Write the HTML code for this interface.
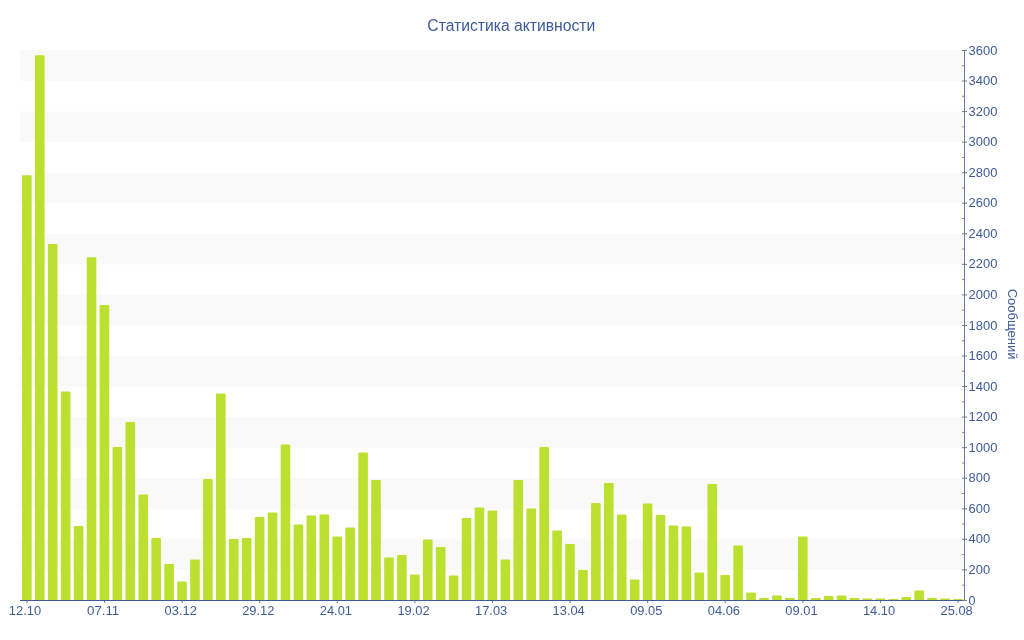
<!DOCTYPE html><html><head><meta charset="utf-8"><style>html,body{margin:0;padding:0;background:#fff;width:1024px;height:640px;overflow:hidden}svg{display:block;will-change:transform}text{font-family:"Liberation Sans",sans-serif}</style></head><body>
<svg width="1024" height="640" viewBox="0 0 1024 640">
<rect x="0" y="0" width="1024" height="640" fill="#fff"/>
<rect x="20.0" y="50.00" width="943.0" height="31.01" fill="#f9f9f9"/>
<rect x="20.0" y="111.56" width="943.0" height="30.56" fill="#f9f9f9"/>
<rect x="20.0" y="172.67" width="943.0" height="30.56" fill="#f9f9f9"/>
<rect x="20.0" y="233.78" width="943.0" height="30.56" fill="#f9f9f9"/>
<rect x="20.0" y="294.89" width="943.0" height="30.56" fill="#f9f9f9"/>
<rect x="20.0" y="356.01" width="943.0" height="30.56" fill="#f9f9f9"/>
<rect x="20.0" y="417.12" width="943.0" height="30.56" fill="#f9f9f9"/>
<rect x="20.0" y="478.23" width="943.0" height="30.56" fill="#f9f9f9"/>
<rect x="20.0" y="539.34" width="943.0" height="30.56" fill="#f9f9f9"/>
<path d="M22.05 600V176.25Q22.05 175.25 23.05 175.25H30.65Q31.65 175.25 31.65 176.25V600Z" fill="#bbe02f"/>
<path d="M34.98 600V56.25Q34.98 55.25 35.98 55.25H43.58Q44.58 55.25 44.58 56.25V600Z" fill="#bbe02f"/>
<path d="M47.91 600V245.10Q47.91 244.10 48.91 244.10H56.51Q57.51 244.10 57.51 245.10V600Z" fill="#bbe02f"/>
<path d="M60.85 600V392.50Q60.85 391.50 61.85 391.50H69.45Q70.45 391.50 70.45 392.50V600Z" fill="#bbe02f"/>
<path d="M73.78 600V527.00Q73.78 526.00 74.78 526.00H82.38Q83.38 526.00 83.38 527.00V600Z" fill="#bbe02f"/>
<path d="M86.71 600V258.25Q86.71 257.25 87.71 257.25H95.31Q96.31 257.25 96.31 258.25V600Z" fill="#bbe02f"/>
<path d="M99.64 600V306.00Q99.64 305.00 100.64 305.00H108.24Q109.24 305.00 109.24 306.00V600Z" fill="#bbe02f"/>
<path d="M112.57 600V448.00Q112.57 447.00 113.57 447.00H121.17Q122.17 447.00 122.17 448.00V600Z" fill="#bbe02f"/>
<path d="M125.51 600V423.00Q125.51 422.00 126.51 422.00H134.11Q135.11 422.00 135.11 423.00V600Z" fill="#bbe02f"/>
<path d="M138.44 600V495.50Q138.44 494.50 139.44 494.50H147.04Q148.04 494.50 148.04 495.50V600Z" fill="#bbe02f"/>
<path d="M151.37 600V539.00Q151.37 538.00 152.37 538.00H159.97Q160.97 538.00 160.97 539.00V600Z" fill="#bbe02f"/>
<path d="M164.30 600V565.00Q164.30 564.00 165.30 564.00H172.90Q173.90 564.00 173.90 565.00V600Z" fill="#bbe02f"/>
<path d="M177.23 600V582.50Q177.23 581.50 178.23 581.50H185.83Q186.83 581.50 186.83 582.50V600Z" fill="#bbe02f"/>
<path d="M190.17 600V560.50Q190.17 559.50 191.17 559.50H198.77Q199.77 559.50 199.77 560.50V600Z" fill="#bbe02f"/>
<path d="M203.10 600V480.00Q203.10 479.00 204.10 479.00H211.70Q212.70 479.00 212.70 480.00V600Z" fill="#bbe02f"/>
<path d="M216.03 600V394.50Q216.03 393.50 217.03 393.50H224.63Q225.63 393.50 225.63 394.50V600Z" fill="#bbe02f"/>
<path d="M228.96 600V540.00Q228.96 539.00 229.96 539.00H237.56Q238.56 539.00 238.56 540.00V600Z" fill="#bbe02f"/>
<path d="M241.89 600V539.00Q241.89 538.00 242.89 538.00H250.49Q251.49 538.00 251.49 539.00V600Z" fill="#bbe02f"/>
<path d="M254.83 600V518.00Q254.83 517.00 255.83 517.00H263.43Q264.43 517.00 264.43 518.00V600Z" fill="#bbe02f"/>
<path d="M267.76 600V513.50Q267.76 512.50 268.76 512.50H276.36Q277.36 512.50 277.36 513.50V600Z" fill="#bbe02f"/>
<path d="M280.69 600V445.50Q280.69 444.50 281.69 444.50H289.29Q290.29 444.50 290.29 445.50V600Z" fill="#bbe02f"/>
<path d="M293.62 600V525.50Q293.62 524.50 294.62 524.50H302.22Q303.22 524.50 303.22 525.50V600Z" fill="#bbe02f"/>
<path d="M306.55 600V516.50Q306.55 515.50 307.55 515.50H315.15Q316.15 515.50 316.15 516.50V600Z" fill="#bbe02f"/>
<path d="M319.49 600V515.50Q319.49 514.50 320.49 514.50H328.09Q329.09 514.50 329.09 515.50V600Z" fill="#bbe02f"/>
<path d="M332.42 600V537.50Q332.42 536.50 333.42 536.50H341.02Q342.02 536.50 342.02 537.50V600Z" fill="#bbe02f"/>
<path d="M345.35 600V528.50Q345.35 527.50 346.35 527.50H353.95Q354.95 527.50 354.95 528.50V600Z" fill="#bbe02f"/>
<path d="M358.28 600V453.50Q358.28 452.50 359.28 452.50H366.88Q367.88 452.50 367.88 453.50V600Z" fill="#bbe02f"/>
<path d="M371.21 600V481.00Q371.21 480.00 372.21 480.00H379.81Q380.81 480.00 380.81 481.00V600Z" fill="#bbe02f"/>
<path d="M384.15 600V558.50Q384.15 557.50 385.15 557.50H392.75Q393.75 557.50 393.75 558.50V600Z" fill="#bbe02f"/>
<path d="M397.08 600V556.00Q397.08 555.00 398.08 555.00H405.68Q406.68 555.00 406.68 556.00V600Z" fill="#bbe02f"/>
<path d="M410.01 600V575.50Q410.01 574.50 411.01 574.50H418.61Q419.61 574.50 419.61 575.50V600Z" fill="#bbe02f"/>
<path d="M422.94 600V540.50Q422.94 539.50 423.94 539.50H431.54Q432.54 539.50 432.54 540.50V600Z" fill="#bbe02f"/>
<path d="M435.87 600V548.00Q435.87 547.00 436.87 547.00H444.47Q445.47 547.00 445.47 548.00V600Z" fill="#bbe02f"/>
<path d="M448.81 600V576.50Q448.81 575.50 449.81 575.50H457.41Q458.41 575.50 458.41 576.50V600Z" fill="#bbe02f"/>
<path d="M461.74 600V519.00Q461.74 518.00 462.74 518.00H470.34Q471.34 518.00 471.34 519.00V600Z" fill="#bbe02f"/>
<path d="M474.67 600V508.50Q474.67 507.50 475.67 507.50H483.27Q484.27 507.50 484.27 508.50V600Z" fill="#bbe02f"/>
<path d="M487.60 600V511.50Q487.60 510.50 488.60 510.50H496.20Q497.20 510.50 497.20 511.50V600Z" fill="#bbe02f"/>
<path d="M500.53 600V560.50Q500.53 559.50 501.53 559.50H509.13Q510.13 559.50 510.13 560.50V600Z" fill="#bbe02f"/>
<path d="M513.47 600V481.00Q513.47 480.00 514.47 480.00H522.07Q523.07 480.00 523.07 481.00V600Z" fill="#bbe02f"/>
<path d="M526.40 600V509.50Q526.40 508.50 527.40 508.50H535.00Q536.00 508.50 536.00 509.50V600Z" fill="#bbe02f"/>
<path d="M539.33 600V448.00Q539.33 447.00 540.33 447.00H547.93Q548.93 447.00 548.93 448.00V600Z" fill="#bbe02f"/>
<path d="M552.26 600V531.50Q552.26 530.50 553.26 530.50H560.86Q561.86 530.50 561.86 531.50V600Z" fill="#bbe02f"/>
<path d="M565.19 600V545.00Q565.19 544.00 566.19 544.00H573.79Q574.79 544.00 574.79 545.00V600Z" fill="#bbe02f"/>
<path d="M578.13 600V571.00Q578.13 570.00 579.13 570.00H586.73Q587.73 570.00 587.73 571.00V600Z" fill="#bbe02f"/>
<path d="M591.06 600V504.00Q591.06 503.00 592.06 503.00H599.66Q600.66 503.00 600.66 504.00V600Z" fill="#bbe02f"/>
<path d="M603.99 600V484.00Q603.99 483.00 604.99 483.00H612.59Q613.59 483.00 613.59 484.00V600Z" fill="#bbe02f"/>
<path d="M616.92 600V515.50Q616.92 514.50 617.92 514.50H625.52Q626.52 514.50 626.52 515.50V600Z" fill="#bbe02f"/>
<path d="M629.85 600V580.50Q629.85 579.50 630.85 579.50H638.45Q639.45 579.50 639.45 580.50V600Z" fill="#bbe02f"/>
<path d="M642.79 600V504.50Q642.79 503.50 643.79 503.50H651.39Q652.39 503.50 652.39 504.50V600Z" fill="#bbe02f"/>
<path d="M655.72 600V516.00Q655.72 515.00 656.72 515.00H664.32Q665.32 515.00 665.32 516.00V600Z" fill="#bbe02f"/>
<path d="M668.65 600V526.50Q668.65 525.50 669.65 525.50H677.25Q678.25 525.50 678.25 526.50V600Z" fill="#bbe02f"/>
<path d="M681.58 600V527.50Q681.58 526.50 682.58 526.50H690.18Q691.18 526.50 691.18 527.50V600Z" fill="#bbe02f"/>
<path d="M694.51 600V573.50Q694.51 572.50 695.51 572.50H703.11Q704.11 572.50 704.11 573.50V600Z" fill="#bbe02f"/>
<path d="M707.45 600V485.00Q707.45 484.00 708.45 484.00H716.05Q717.05 484.00 717.05 485.00V600Z" fill="#bbe02f"/>
<path d="M720.38 600V576.00Q720.38 575.00 721.38 575.00H728.98Q729.98 575.00 729.98 576.00V600Z" fill="#bbe02f"/>
<path d="M733.31 600V546.50Q733.31 545.50 734.31 545.50H741.91Q742.91 545.50 742.91 546.50V600Z" fill="#bbe02f"/>
<path d="M746.24 600V593.50Q746.24 592.50 747.24 592.50H754.84Q755.84 592.50 755.84 593.50V600Z" fill="#bbe02f"/>
<path d="M759.17 600V598.00Q759.17 598.00 759.17 598.00H768.77Q768.77 598.00 768.77 598.00V600Z" fill="#bbe02f"/>
<path d="M772.11 600V596.50Q772.11 595.50 773.11 595.50H780.71Q781.71 595.50 781.71 596.50V600Z" fill="#bbe02f"/>
<path d="M785.04 600V598.00Q785.04 598.00 785.04 598.00H794.64Q794.64 598.00 794.64 598.00V600Z" fill="#bbe02f"/>
<path d="M797.97 600V537.50Q797.97 536.50 798.97 536.50H806.57Q807.57 536.50 807.57 537.50V600Z" fill="#bbe02f"/>
<path d="M810.90 600V598.00Q810.90 598.00 810.90 598.00H820.50Q820.50 598.00 820.50 598.00V600Z" fill="#bbe02f"/>
<path d="M823.83 600V597.00Q823.83 596.00 824.83 596.00H832.43Q833.43 596.00 833.43 597.00V600Z" fill="#bbe02f"/>
<path d="M836.77 600V596.50Q836.77 595.50 837.77 595.50H845.37Q846.37 595.50 846.37 596.50V600Z" fill="#bbe02f"/>
<path d="M849.70 600V598.00Q849.70 598.00 849.70 598.00H859.30Q859.30 598.00 859.30 598.00V600Z" fill="#bbe02f"/>
<path d="M862.63 600V598.50Q862.63 598.50 862.63 598.50H872.23Q872.23 598.50 872.23 598.50V600Z" fill="#bbe02f"/>
<path d="M875.56 600V598.50Q875.56 598.50 875.56 598.50H885.16Q885.16 598.50 885.16 598.50V600Z" fill="#bbe02f"/>
<path d="M888.49 600V599.00Q888.49 599.00 888.49 599.00H898.09Q898.09 599.00 898.09 599.00V600Z" fill="#bbe02f"/>
<path d="M901.43 600V598.00Q901.43 597.00 902.43 597.00H910.03Q911.03 597.00 911.03 598.00V600Z" fill="#bbe02f"/>
<path d="M914.36 600V591.50Q914.36 590.50 915.36 590.50H922.96Q923.96 590.50 923.96 591.50V600Z" fill="#bbe02f"/>
<path d="M927.29 600V598.00Q927.29 598.00 927.29 598.00H936.89Q936.89 598.00 936.89 598.00V600Z" fill="#bbe02f"/>
<path d="M940.22 600V598.50Q940.22 598.50 940.22 598.50H949.82Q949.82 598.50 949.82 598.50V600Z" fill="#bbe02f"/>
<path d="M953.15 600V599.00Q953.15 599.00 953.15 599.00H962.75Q962.75 599.00 962.75 599.00V600Z" fill="#bbe02f"/>
<rect x="20.0" y="600" width="944.0" height="1" fill="#3e5a98"/>
<rect x="26.47" y="601" width="1" height="2" fill="#777"/>
<text x="24.97" y="614.8" font-size="12" fill="#3e5a98" text-anchor="middle" textLength="32.2" lengthAdjust="spacingAndGlyphs">12.10</text>
<rect x="104.05" y="601" width="1" height="2" fill="#777"/>
<text x="103.15" y="614.8" font-size="12" fill="#3e5a98" text-anchor="middle" textLength="32.2" lengthAdjust="spacingAndGlyphs">07.11</text>
<rect x="181.64" y="601" width="1" height="2" fill="#777"/>
<text x="180.74" y="614.8" font-size="12" fill="#3e5a98" text-anchor="middle" textLength="32.2" lengthAdjust="spacingAndGlyphs">03.12</text>
<rect x="259.23" y="601" width="1" height="2" fill="#777"/>
<text x="258.33" y="614.8" font-size="12" fill="#3e5a98" text-anchor="middle" textLength="32.2" lengthAdjust="spacingAndGlyphs">29.12</text>
<rect x="336.82" y="601" width="1" height="2" fill="#777"/>
<text x="335.92" y="614.8" font-size="12" fill="#3e5a98" text-anchor="middle" textLength="32.2" lengthAdjust="spacingAndGlyphs">24.01</text>
<rect x="414.41" y="601" width="1" height="2" fill="#777"/>
<text x="413.51" y="614.8" font-size="12" fill="#3e5a98" text-anchor="middle" textLength="32.2" lengthAdjust="spacingAndGlyphs">19.02</text>
<rect x="492.00" y="601" width="1" height="2" fill="#777"/>
<text x="491.10" y="614.8" font-size="12" fill="#3e5a98" text-anchor="middle" textLength="32.2" lengthAdjust="spacingAndGlyphs">17.03</text>
<rect x="569.59" y="601" width="1" height="2" fill="#777"/>
<text x="568.69" y="614.8" font-size="12" fill="#3e5a98" text-anchor="middle" textLength="32.2" lengthAdjust="spacingAndGlyphs">13.04</text>
<rect x="647.18" y="601" width="1" height="2" fill="#777"/>
<text x="646.28" y="614.8" font-size="12" fill="#3e5a98" text-anchor="middle" textLength="32.2" lengthAdjust="spacingAndGlyphs">09.05</text>
<rect x="724.77" y="601" width="1" height="2" fill="#777"/>
<text x="723.87" y="614.8" font-size="12" fill="#3e5a98" text-anchor="middle" textLength="32.2" lengthAdjust="spacingAndGlyphs">04.06</text>
<rect x="802.36" y="601" width="1" height="2" fill="#777"/>
<text x="801.46" y="614.8" font-size="12" fill="#3e5a98" text-anchor="middle" textLength="32.2" lengthAdjust="spacingAndGlyphs">09.01</text>
<rect x="879.95" y="601" width="1" height="2" fill="#777"/>
<text x="879.05" y="614.8" font-size="12" fill="#3e5a98" text-anchor="middle" textLength="32.2" lengthAdjust="spacingAndGlyphs">14.10</text>
<rect x="957.53" y="601" width="1" height="2" fill="#777"/>
<text x="956.63" y="614.8" font-size="12" fill="#3e5a98" text-anchor="middle" textLength="32.2" lengthAdjust="spacingAndGlyphs">25.08</text>
<rect x="964" y="50" width="1" height="551" fill="#6a7aac"/>
<rect x="962" y="599.95" width="5" height="1" fill="#777"/>
<text x="968.5" y="604.60" font-size="12" fill="#3e5a98" textLength="7.0" lengthAdjust="spacingAndGlyphs">0</text>
<rect x="962" y="584.67" width="2" height="1" fill="#888"/>
<rect x="962" y="569.39" width="5" height="1" fill="#777"/>
<text x="968.5" y="574.04" font-size="12" fill="#3e5a98" textLength="21.6" lengthAdjust="spacingAndGlyphs">200</text>
<rect x="962" y="554.12" width="2" height="1" fill="#888"/>
<rect x="962" y="538.84" width="5" height="1" fill="#777"/>
<text x="968.5" y="543.49" font-size="12" fill="#3e5a98" textLength="21.6" lengthAdjust="spacingAndGlyphs">400</text>
<rect x="962" y="523.56" width="2" height="1" fill="#888"/>
<rect x="962" y="508.28" width="5" height="1" fill="#777"/>
<text x="968.5" y="512.93" font-size="12" fill="#3e5a98" textLength="21.6" lengthAdjust="spacingAndGlyphs">600</text>
<rect x="962" y="493.01" width="2" height="1" fill="#888"/>
<rect x="962" y="477.73" width="5" height="1" fill="#777"/>
<text x="968.5" y="482.38" font-size="12" fill="#3e5a98" textLength="21.6" lengthAdjust="spacingAndGlyphs">800</text>
<rect x="962" y="462.45" width="2" height="1" fill="#888"/>
<rect x="962" y="447.17" width="5" height="1" fill="#777"/>
<text x="968.5" y="451.82" font-size="12" fill="#3e5a98" textLength="28.9" lengthAdjust="spacingAndGlyphs">1000</text>
<rect x="962" y="431.89" width="2" height="1" fill="#888"/>
<rect x="962" y="416.62" width="5" height="1" fill="#777"/>
<text x="968.5" y="421.27" font-size="12" fill="#3e5a98" textLength="28.9" lengthAdjust="spacingAndGlyphs">1200</text>
<rect x="962" y="401.34" width="2" height="1" fill="#888"/>
<rect x="962" y="386.06" width="5" height="1" fill="#777"/>
<text x="968.5" y="390.71" font-size="12" fill="#3e5a98" textLength="28.9" lengthAdjust="spacingAndGlyphs">1400</text>
<rect x="962" y="370.78" width="2" height="1" fill="#888"/>
<rect x="962" y="355.51" width="5" height="1" fill="#777"/>
<text x="968.5" y="360.16" font-size="12" fill="#3e5a98" textLength="28.9" lengthAdjust="spacingAndGlyphs">1600</text>
<rect x="962" y="340.23" width="2" height="1" fill="#888"/>
<rect x="962" y="324.95" width="5" height="1" fill="#777"/>
<text x="968.5" y="329.60" font-size="12" fill="#3e5a98" textLength="28.9" lengthAdjust="spacingAndGlyphs">1800</text>
<rect x="962" y="309.67" width="2" height="1" fill="#888"/>
<rect x="962" y="294.39" width="5" height="1" fill="#777"/>
<text x="968.5" y="299.04" font-size="12" fill="#3e5a98" textLength="28.9" lengthAdjust="spacingAndGlyphs">2000</text>
<rect x="962" y="279.12" width="2" height="1" fill="#888"/>
<rect x="962" y="263.84" width="5" height="1" fill="#777"/>
<text x="968.5" y="268.49" font-size="12" fill="#3e5a98" textLength="28.9" lengthAdjust="spacingAndGlyphs">2200</text>
<rect x="962" y="248.56" width="2" height="1" fill="#888"/>
<rect x="962" y="233.28" width="5" height="1" fill="#777"/>
<text x="968.5" y="237.93" font-size="12" fill="#3e5a98" textLength="28.9" lengthAdjust="spacingAndGlyphs">2400</text>
<rect x="962" y="218.01" width="2" height="1" fill="#888"/>
<rect x="962" y="202.73" width="5" height="1" fill="#777"/>
<text x="968.5" y="207.38" font-size="12" fill="#3e5a98" textLength="28.9" lengthAdjust="spacingAndGlyphs">2600</text>
<rect x="962" y="187.45" width="2" height="1" fill="#888"/>
<rect x="962" y="172.17" width="5" height="1" fill="#777"/>
<text x="968.5" y="176.82" font-size="12" fill="#3e5a98" textLength="28.9" lengthAdjust="spacingAndGlyphs">2800</text>
<rect x="962" y="156.89" width="2" height="1" fill="#888"/>
<rect x="962" y="141.62" width="5" height="1" fill="#777"/>
<text x="968.5" y="146.27" font-size="12" fill="#3e5a98" textLength="28.9" lengthAdjust="spacingAndGlyphs">3000</text>
<rect x="962" y="126.34" width="2" height="1" fill="#888"/>
<rect x="962" y="111.06" width="5" height="1" fill="#777"/>
<text x="968.5" y="115.71" font-size="12" fill="#3e5a98" textLength="28.9" lengthAdjust="spacingAndGlyphs">3200</text>
<rect x="962" y="95.78" width="2" height="1" fill="#888"/>
<rect x="962" y="80.51" width="5" height="1" fill="#777"/>
<text x="968.5" y="85.16" font-size="12" fill="#3e5a98" textLength="28.9" lengthAdjust="spacingAndGlyphs">3400</text>
<rect x="962" y="65.23" width="2" height="1" fill="#888"/>
<rect x="962" y="49.95" width="5" height="1" fill="#777"/>
<text x="968.5" y="54.60" font-size="12" fill="#3e5a98" textLength="28.9" lengthAdjust="spacingAndGlyphs">3600</text>
<text x="427.3" y="30.75" font-size="16" fill="#3e5a98" textLength="168" lengthAdjust="spacingAndGlyphs">Статистика активности</text>
<text transform="translate(1008.3,288.7) rotate(90)" x="0" y="0" font-size="13" fill="#3e5a98" textLength="70.8" lengthAdjust="spacingAndGlyphs">Сообщений</text>
</svg></body></html>
